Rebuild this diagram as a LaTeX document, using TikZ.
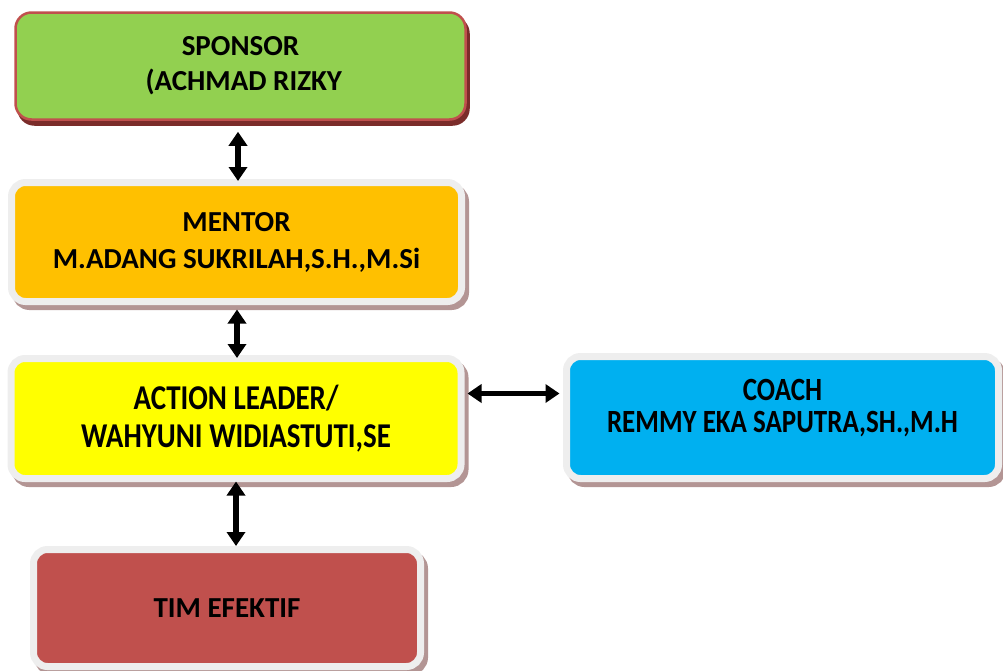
\documentclass[tikz,border=0pt]{standalone}
\usepackage{fontspec}
\setmainfont{Carlito}
\usetikzlibrary{arrows.meta}
\definecolor{sponsorgreen}{HTML}{92D050}
\definecolor{sponsorrim}{HTML}{C0504D}
\definecolor{sponsorshade}{HTML}{7B2C2A}
\definecolor{mentororange}{HTML}{FFC000}
\definecolor{leaderyellow}{HTML}{FFFF00}
\definecolor{coachblue}{HTML}{00B0F0}
\definecolor{teamred}{HTML}{C0504D}
\definecolor{framegrey}{HTML}{EEEEEE}
\definecolor{frameshade}{HTML}{B39594}
\newcommand{\tall}[1]{\scalebox{1}[1.2]{#1}}
\tikzset{
  boxtext/.style={font=\bfseries\fontsize{29}{37}\selectfont, align=center, text=black},
  framedbox/.style={rounded corners=14pt, draw=framegrey, line width=7pt,
    preaction={fill=frameshade, draw=frameshade, line width=7pt,
      transform canvas={shift={(4pt,-5pt)}}}},
  rimbox/.style={rounded corners=16pt, draw=sponsorrim, line width=2.5pt,
    preaction={fill=sponsorshade, draw=sponsorshade, line width=2.5pt,
      transform canvas={shift={(3pt,-5pt)}}}},
  biarrow/.style={line width=5.5pt, {Triangle[width=18pt,length=14pt]}-{Triangle[width=18pt,length=14pt]}},
}
\begin{document}
\begin{tikzpicture}[x=1pt, y=-1pt]
  \useasboundingbox (0,0) rectangle (1003,670);
  % organisation boxes
  \node[rimbox, fill=sponsorgreen, minimum width=450pt, minimum height=107pt, boxtext,
        font=\bfseries\fontsize{29}{35}\selectfont]
    (s) at (240.5,66) {SPONSOR\\\ (ACHMAD RIZKY};
  \node[framedbox, fill=mentororange, minimum width=450pt, minimum height=119pt, boxtext]
    (m) at (236.5,242) {MENTOR\\M.ADANG SUKRILAH,S.H.,M.Si};
  \node[framedbox, fill=leaderyellow, minimum width=450pt, minimum height=120pt, boxtext,
        font=\bfseries\fontsize{29}{38}\selectfont]
    (a) at (236,418.5) {\tall{ACTION LEADER/}\\\tall{WAHYUNI WIDIASTUTI,SE}};
  \node[framedbox, fill=coachblue, minimum width=432pt, minimum height=122pt]
    (c) at (782.5,417.5) {};
  \node[boxtext, font=\bfseries\fontsize{27}{32}\selectfont] (ct) at ([yshift=9pt]c.center)
    {\tall{COACH}\\\tall{REMMY EKA SAPUTRA,SH.,M.H}};
  \node[framedbox, fill=teamred, minimum width=387pt, minimum height=117pt, boxtext]
    (t) at (227,608) {TIM EFEKTIF};
  % two-way links
  \draw[biarrow, shorten <=11pt, shorten >=-2pt]
    ([xshift=-2.5pt]s.south) -- ([xshift=-2.5pt]s.south |- m.north);
  \draw[biarrow, shorten <=4.5pt, shorten >=-3pt]
    ([xshift=0.5pt]m.south) -- ([xshift=0.5pt]m.south |- a.north);
  \draw[biarrow, shorten <=-0.5pt, shorten >=0pt]
    ([xshift=0pt]a.south) -- ([xshift=0pt]a.south |- t.north);
  \draw[biarrow, shorten <=3pt, shorten >=3.5pt]
    ([yshift=25pt]a.east) -- ([yshift=25pt]a.east -| c.west);
\end{tikzpicture}
\end{document}
